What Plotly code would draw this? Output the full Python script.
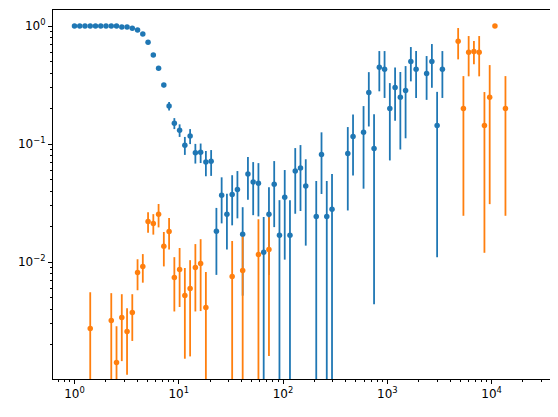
import plotly.graph_objects as go

# blue series
blue_x = [1.0, 1.123, 1.261, 1.416, 1.591, 1.786, 2.006, 2.253, 2.530, 2.842,
          3.192, 3.584, 4.025, 4.521, 5.077, 5.702, 6.404, 7.192, 8.077, 9.071,
          10.19, 11.44, 12.85, 14.43, 16.21, 18.20, 20.44, 22.96, 25.78, 28.96,
          32.51, 36.52, 41.01, 46.06, 51.72, 58.08, 65.23, 73.26, 82.27, 92.39,
          103.8, 116.5, 130.9, 147.0, 165.1, 208.2, 233.8, 262.6, 294.9, 417.7,
          469.1, 591.6, 664.4, 746.2, 838.0, 941.1, 1057, 1187, 1333, 1497,
          1681, 1888, 2381, 2674, 3003, 3373]
blue_y = [1.0, 1.0, 1.0, 1.0, 1.0, 1.0, 1.0, 1.0, 1.0, 0.98,
          0.98, 0.96, 0.925, 0.855, 0.73, 0.568, 0.44, 0.316, 0.21, 0.150,
          0.131, 0.098, 0.117, 0.0844, 0.0851, 0.0704, 0.0714, 0.0183, 0.0368, 0.0254,
          0.0375, 0.0413, 0.0172, 0.0557, 0.0477, 0.0467, 0.0121, 0.0254, 0.0458, 0.0169,
          0.0354, 0.0169, 0.0591, 0.0626, 0.0441, 0.0244, 0.0818, 0.0244, 0.028, 0.0834,
          0.1162, 0.1259, 0.274, 0.0919, 0.447, 0.43, 0.2007, 0.302, 0.249, 0.285,
          0.502, 0.43, 0.397, 0.502, 0.144, 0.43]
blue_err = [0, 0, 0, 0, 0, 0, 0, 0, 0.002, 0.003,
            0.004, 0.005, 0.006, 0.007, 0.009, 0.01, 0.011, 0.013, 0.017, 0.016,
            0.016, 0.017, 0.017, 0.016, 0.016, 0.017, 0.0176, 0.0105, 0.0155, 0.0126,
            0.017, 0.0178, 0.012, 0.022, 0.0227, 0.0223, 0.012, 0.0176, 0.026, 0.0166,
            0.0249, 0.0166, 0.0334, 0.0355, 0.0303, 0.0242, 0.044, 0.0242, 0.0277, 0.056,
            0.062, 0.084, 0.133, 0.0875, 0.167, 0.184, 0.128, 0.144, 0.159, 0.173,
            0.162, 0.184, 0.16, 0.202, 0.133, 0.184]

# orange series
orange_x = [1.416, 2.253, 2.530, 2.842, 3.192, 3.584, 4.025, 4.521, 5.077, 5.702,
            6.404, 7.192, 8.077, 9.071, 10.19, 11.44, 12.85, 14.43, 16.21, 18.20,
            32.51, 41.01, 58.08, 73.26, 4778, 5366, 6026, 6768, 7601, 8536,
            9586, 10765, 13577]
orange_y = [0.00274, 0.00321, 0.00141, 0.0034, 0.00259, 0.00375, 0.00818, 0.0092, 0.0221, 0.0213,
            0.0254, 0.0136, 0.0182, 0.00742, 0.00867, 0.00522, 0.00599, 0.00902, 0.00975, 0.00413,
            0.00757, 0.0085, 0.0116, 0.0128, 0.742, 0.2007, 0.599, 0.61, 0.599, 0.144,
            0.249, 1.0, 0.2007]
orange_err = [0.00283, 0.00225, 0.00146, 0.00195, 0.00148, 0.0016, 0.0024, 0.0025, 0.0044, 0.0042,
              0.0057, 0.0044, 0.0054, 0.0036, 0.0045, 0.0037, 0.0044, 0.0052, 0.0059, 0.0041,
              0.0075, 0.0079, 0.0115, 0.0112, 0.22, 0.176, 0.224, 0.136, 0.224, 0.132,
              0.218, 0, 0.176]

x_major = [1, 10, 100, 1000, 10000]
x_labels = ["10<sup>0</sup>", "10<sup>1</sup>", "10<sup>2</sup>", "10<sup>3</sup>", "10<sup>4</sup>"]
y_major = [0.01, 0.1, 1]
y_labels = ["10<sup>−2</sup>", "10<sup>−1</sup>", "10<sup>0</sup>"]

x_minor = [m * 10 ** e for e in range(-1, 5) for m in range(2, 10)]
y_minor = [m * 10 ** e for e in range(-3, 1) for m in range(2, 10)]

fig = go.Figure()

for xs, ys, es, color in [(blue_x, blue_y, blue_err, "#1f77b4"),
                          (orange_x, orange_y, orange_err, "#ff7f0e")]:
    fig.add_trace(
        go.Scatter(
            x=xs,
            y=ys,
            mode="markers",
            marker=dict(size=5.5, color=color, line=dict(width=0)),
            error_y=dict(
                type="data",
                array=es,
                symmetric=True,
                color=color,
                thickness=1.8,
                width=0
            ),
            showlegend=False
        )
    )

axis_common = dict(
    showgrid=False,
    zeroline=False,
    showline=True,
    linecolor="black",
    linewidth=1,
    mirror=True,
    automargin=False,
    ticks="outside",
    ticklen=4,
    tickwidth=1,
    tickcolor="black",
    tickfont=dict(family="DejaVu Sans", size=12, color="black"),
)

# page body adds an 8px offset, so the figure is sized to fit the window
fig.update_layout(
    width=550,
    height=409,
    paper_bgcolor="white",
    plot_bgcolor="white",
    margin=dict(l=45, r=8, t=2, b=38),
    xaxis=dict(
        type="log",
        range=[-0.206, 4.56],
        tickvals=x_major,
        ticktext=x_labels,
        minor=dict(tickvals=x_minor, ticks="outside", ticklen=2, tickwidth=1, tickcolor="black"),
        **axis_common
    ),
    yaxis=dict(
        type="log",
        range=[-2.99, 0.136],
        tickvals=y_major,
        ticktext=y_labels,
        minor=dict(tickvals=y_minor, ticks="outside", ticklen=2, tickwidth=1, tickcolor="black"),
        **axis_common
    ),
)

fig.write_html("out.html")
